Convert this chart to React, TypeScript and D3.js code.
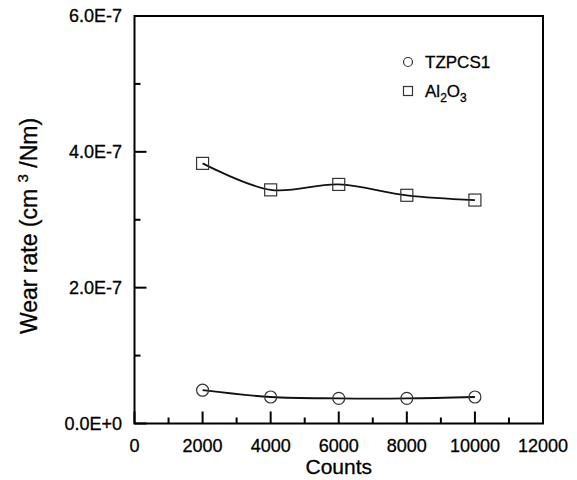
import React from "react";
import * as d3 from "d3";

const counts = [2000, 4000, 6000, 8000, 10000];
const tzpcs1 = [0.49e-7, 0.39e-7, 0.37e-7, 0.37e-7, 0.39e-7];
const alumina = [3.83e-7, 3.44e-7, 3.52e-7, 3.36e-7, 3.29e-7];
const xTicks = [0, 2000, 4000, 6000, 8000, 10000, 12000];
const xMinor = [1000, 3000, 5000, 7000, 9000, 11000];
const yTicks = [0, 2e-7, 4e-7, 6e-7];
const yTickLabels = ["0.0E+0", "2.0E-7", "4.0E-7", "6.0E-7"];
const yMinor = [1e-7, 3e-7, 5e-7];

const W = 577;
const H = 480;
const FONT = "Arial, 'Liberation Sans', Helvetica, sans-serif";

export default function App() {
    const x = d3.scaleLinear().domain([0, 12000]).range([134.5, 543]);
    const y = d3.scaleLinear().domain([0, 6e-7]).range([423.5, 16]);

    const line = d3.line<number>()
        .x((d, i) => x(counts[i]))
        .y((d) => y(d))
        .curve(d3.curveCatmullRom.alpha(0.5));

    const [x0, x1] = x.range();
    const [y0, y1] = y.range();

    return (
        <svg width={W} height={H} style={{ position: "absolute", left: 0, top: 0, background: "#fff" }}
            fontFamily={FONT}>
            {/* series lines */}
            <path d={line(alumina) || ""} fill="none" stroke="#111" strokeWidth={1.8} />
            <path d={line(tzpcs1) || ""} fill="none" stroke="#111" strokeWidth={1.8} />

            {/* markers */}
            {alumina.map((v, i) => (
                <rect key={"a" + i} x={x(counts[i]) - 6} y={y(v) - 6} width={12} height={12}
                    fill="none" stroke="#333" strokeWidth={1.2} />
            ))}
            {tzpcs1.map((v, i) => (
                <circle key={"t" + i} cx={x(counts[i])} cy={y(v)} r={6}
                    fill="none" stroke="#333" strokeWidth={1.2} />
            ))}

            {/* frame */}
            <rect x={x0} y={y1} width={x1 - x0} height={y0 - y1} fill="none" stroke="#000" strokeWidth={2} />

            {/* x ticks */}
            {xTicks.map((t) => (
                <line key={"xt" + t} x1={x(t)} x2={x(t)} y1={y0} y2={y0 - 12} stroke="#000" strokeWidth={2} />
            ))}
            {xMinor.map((t) => (
                <line key={"xm" + t} x1={x(t)} x2={x(t)} y1={y0} y2={y0 - 6} stroke="#000" strokeWidth={2} />
            ))}
            {xTicks.map((t) => (
                <text key={"xl" + t} x={x(t)} y={452} textAnchor="middle" fontSize={18}
                    stroke="#000" strokeWidth={0.3}>{t}</text>
            ))}

            {/* y ticks */}
            {yTicks.map((t, i) => (
                <g key={"yt" + i}>
                    <line x1={x0} x2={x0 + 12} y1={y(t)} y2={y(t)} stroke="#000" strokeWidth={2} />
                    <text x={122} y={y(t)} dy="0.35em" textAnchor="end" fontSize={18}
                        stroke="#000" strokeWidth={0.3}>{yTickLabels[i]}</text>
                </g>
            ))}
            {yMinor.map((t, i) => (
                <line key={"ym" + i} x1={x0} x2={x0 + 6} y1={y(t)} y2={y(t)} stroke="#000" strokeWidth={2} />
            ))}

            {/* axis titles */}
            <text x={(x0 + x1) / 2} y={474} textAnchor="middle" fontSize={21}
                stroke="#000" strokeWidth={0.3}>Counts</text>
            <text transform={`translate(37,226) rotate(-90)`} textAnchor="middle" fontSize={23}
                stroke="#000" strokeWidth={0.3}>
                Wear rate (cm <tspan dy={-9} fontSize={15}>3</tspan><tspan dy={9}> /Nm)</tspan>
            </text>

            {/* legend */}
            <circle cx={408} cy={62} r={4.5} fill="none" stroke="#333" strokeWidth={1.2} />
            <text x={425} y={68} fontSize={17} stroke="#000" strokeWidth={0.3}>TZPCS1</text>
            <rect x={403.5} y={86.5} width={9} height={9} fill="none" stroke="#333" strokeWidth={1.2} />
            <text x={425} y={97} fontSize={17} stroke="#000" strokeWidth={0.3}>
                Al<tspan dy={5} fontSize={12}>2</tspan><tspan dy={-5}>O</tspan><tspan dy={5} fontSize={12}>3</tspan>
            </text>
        </svg>
    );
}
